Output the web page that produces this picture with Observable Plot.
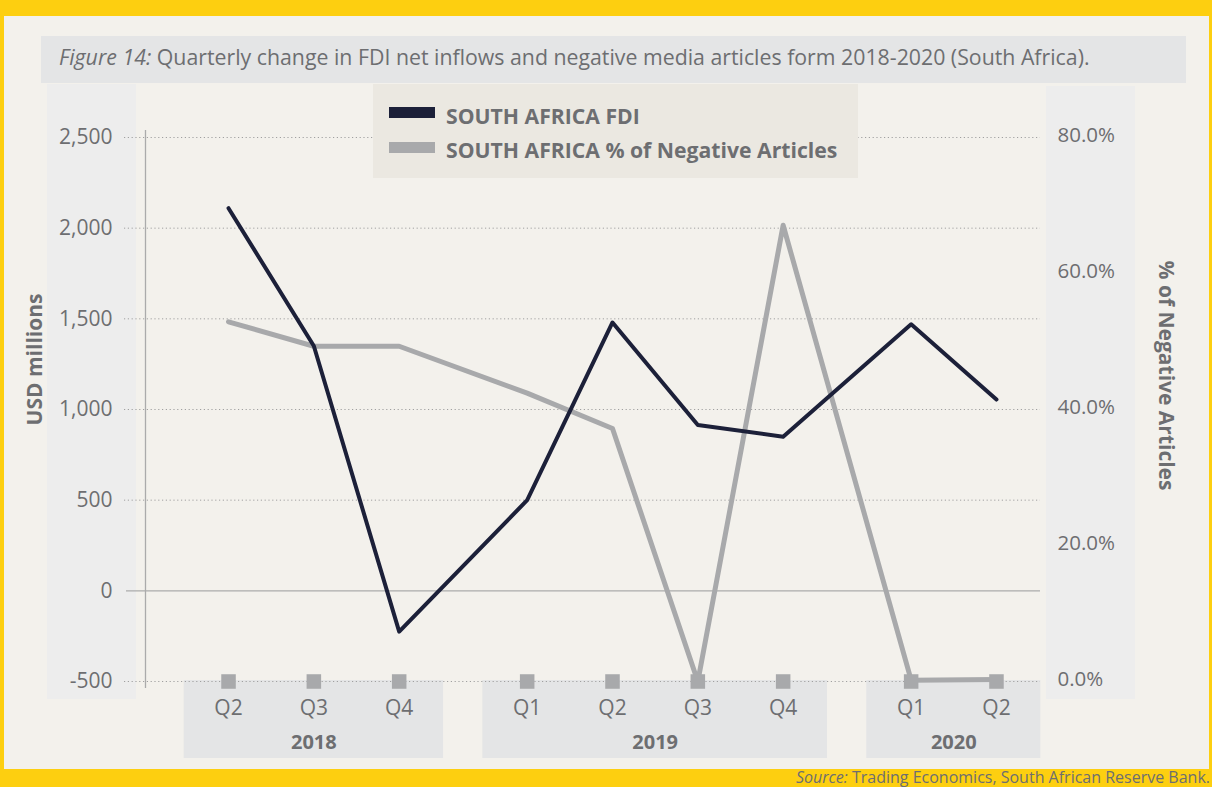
<!DOCTYPE html>
<html>
<head>
<meta charset="utf-8">
<script src="https://cdn.jsdelivr.net/npm/d3@7"></script>
<script src="https://cdn.jsdelivr.net/npm/@observablehq/plot@0.6"></script>
<style>
  html, body { margin: 0; padding: 0; }
  body { width: 1212px; height: 787px; background: #FDCF10; font-family: "Open Sans", sans-serif; overflow: hidden; }
  #frame { position: relative; width: 1212px; height: 787px; background: #FDCF10; }
  .abs { position: absolute; }
  #cream { left: 4px; top: 16px; width: 1205px; height: 753px; background: #F3F1EC; }
  #titlebar { left: 41px; top: 36px; width: 1145px; height: 47px; background: #E4E5E6; }
  #title { left: 59px; top: 43px; font-size: 21.3px; color: #6D6E71; white-space: nowrap; line-height: 28px; }
  #title i { font-style: italic; }
  .panel { background: #EDEDED; }
  #chart { left: 0; top: 84px; }
  #legend { left: 373px; top: 84px; width: 485px; height: 94px; background: #EBE8E1; }
  .sw { position: absolute; left: 16px; width: 46px; height: 11px; }
  .lt { position: absolute; left: 73px; font-size: 21.2px; font-weight: bold; color: #6D6E71; white-space: nowrap; line-height: 28px; }
  #source { right: 2px; top: 769px; font-size: 16px; color: #6D6E71; white-space: nowrap; line-height: 16px; }
</style>
</head>
<body>
<div id="frame">
  <div id="cream" class="abs"></div>
  <div id="titlebar" class="abs"></div>
  <div id="title" class="abs"><i>Figure 14:</i> Quarterly change in FDI net inflows and negative media articles form 2018-2020 (South Africa).</div>
  <div class="abs panel" style="left:47px; top:84px; width:89px; height:615px;"></div>
  <div class="abs panel" style="left:1046px; top:86px; width:89px; height:613px;"></div>
  <div id="chart" class="abs"></div>
  <div id="legend" class="abs">
    <div class="sw" id="sw1" style="top:23px;"></div>
    <div class="lt" id="lt1" style="top:18px;"></div>
    <div class="sw" id="sw2" style="top:58px;"></div>
    <div class="lt" id="lt2" style="top:52px;"></div>
  </div>
  <div id="source" class="abs"><i>Source:</i> Trading Economics, South African Reserve Bank.</div>
</div>
<script>
// ---- data ----
const quarters = ["Q2", "Q3", "Q4", "Q1", "Q2", "Q3", "Q4", "Q1", "Q2"];
const years = ["2018", "2018", "2018", "2019", "2019", "2019", "2019", "2020", "2020"];
const fdiUsdMillions = [2110, 1350, -225, 500, 1480, 915, 850, 1470, 1055];
const negativeArticlesPct = [52.9, 49.3, 49.3, 42.4, 37.2, 0, 67.1, 0.2, 0.3];
const leftTicks = [-500, 0, 500, 1000, 1500, 2000, 2500];
const rightTicks = [0, 20, 40, 60, 80];
const yearList = ["2018", "2019", "2020"];
const seriesNames = ["SOUTH AFRICA FDI", "SOUTH AFRICA % of Negative Articles"];
const seriesColors = ["#1C2039", "#A8A9AB"];

// ---- derived ----
const yMin = leftTicks[0], yMax = leftTicks[leftTicks.length - 1];
const pMin = rightTicks[0], pMax = rightTicks[rightTicks.length - 1];
const toLeft = p => yMin + (p - pMin) / (pMax - pMin) * (yMax - yMin);
const toPct = v => pMin + (v - yMin) / (yMax - yMin) * (pMax - pMin);
const yearGap = 0.5;
const rows = quarters.map((q, i) => ({
  q, year: years[i],
  pos: i + yearGap * yearList.indexOf(years[i]),
  fdi: fdiUsdMillions[i],
  pctY: toLeft(negativeArticlesPct[i])
}));
const groups = yearList.map(y => {
  const r = rows.filter(d => d.year === y);
  const x1 = d3.min(r, d => d.pos) - 0.52, x2 = d3.max(r, d => d.pos) + 0.52;
  return {year: y, x1, x2, mid: (x1 + x2) / 2};
});
const xDomain = [-0.973, 9.516];
const fmtLeft = d => (d < 0 ? "-" : "") + d3.format(",")(Math.abs(d));
const fmtRight = v => toPct(v).toFixed(1) + "%";
const textColor = "#6D6E71";
const base = () => yMin;

const chart = Plot.plot({
  width: 1212,
  height: 687,
  marginLeft: 145,
  marginRight: 172,
  marginTop: 53,
  marginBottom: 90,
  x: {domain: xDomain, axis: null},
  y: {domain: [yMin, yMax], axis: null},
  style: {background: "transparent", fontFamily: "'Open Sans', sans-serif", color: textColor, overflow: "visible"},
  marks: [
    Plot.rect(groups, {x1: "x1", x2: "x2", y1: base, y2: base, insetTop: -1, insetBottom: -77, fill: "#E4E5E6"}),
    Plot.ruleY(leftTicks.filter(d => d !== 0), {stroke: "#A0A0A0", strokeWidth: 1, strokeDasharray: "1.2,2.6", insetLeft: -21}),
    Plot.ruleY([0], {stroke: "#ABABAB", strokeWidth: 1.3, insetLeft: -19}),
    Plot.ruleX([xDomain[0]], {stroke: "#ABABAB", strokeWidth: 1.3, insetTop: -7, insetBottom: -7}),
    Plot.axisY({ticks: leftTicks, tickSize: 0, tickPadding: 33, tickFormat: fmtLeft, fontSize: 21, label: null}),
    Plot.axisY({anchor: "right", ticks: rightTicks.map(toLeft), tickSize: 0, tickPadding: 17, tickFormat: fmtRight, fontSize: 20.5, label: null, dy: -2}),
    Plot.line(rows, {x: "pos", y: "pctY", stroke: seriesColors[1], strokeWidth: 5, strokeLinejoin: "round", strokeLinecap: "round"}),
    Plot.line(rows, {x: "pos", y: "fdi", stroke: seriesColors[0], strokeWidth: 4, strokeLinejoin: "round", strokeLinecap: "round"}),
    Plot.dot(rows, {x: "pos", y: base, symbol: "square", r: 8.2, fill: seriesColors[1], stroke: null}),
    Plot.text(rows, {x: "pos", y: base, text: "q", dy: 27, fontSize: 21, fill: textColor}),
    Plot.text(groups, {x: "mid", y: base, text: "year", dy: 61, fontSize: 20, fontWeight: "bold", fill: textColor}),
    Plot.text(["USD millions"], {text: d => d, frameAnchor: "left", textAnchor: "middle", dx: -110, dy: -50, rotate: -90, fontSize: 21, fontWeight: "bold", fill: textColor}),
    Plot.text(["% of Negative Articles"], {text: d => d, frameAnchor: "right", textAnchor: "middle", dx: 125, dy: -34, rotate: 90, fontSize: 21, fontWeight: "bold", fill: textColor})
  ]
});
document.getElementById("chart").appendChild(chart);

document.getElementById("sw1").style.background = seriesColors[0];
document.getElementById("sw2").style.background = seriesColors[1];
document.getElementById("lt1").textContent = seriesNames[0];
document.getElementById("lt2").textContent = seriesNames[1];
</script>
</body>
</html>
